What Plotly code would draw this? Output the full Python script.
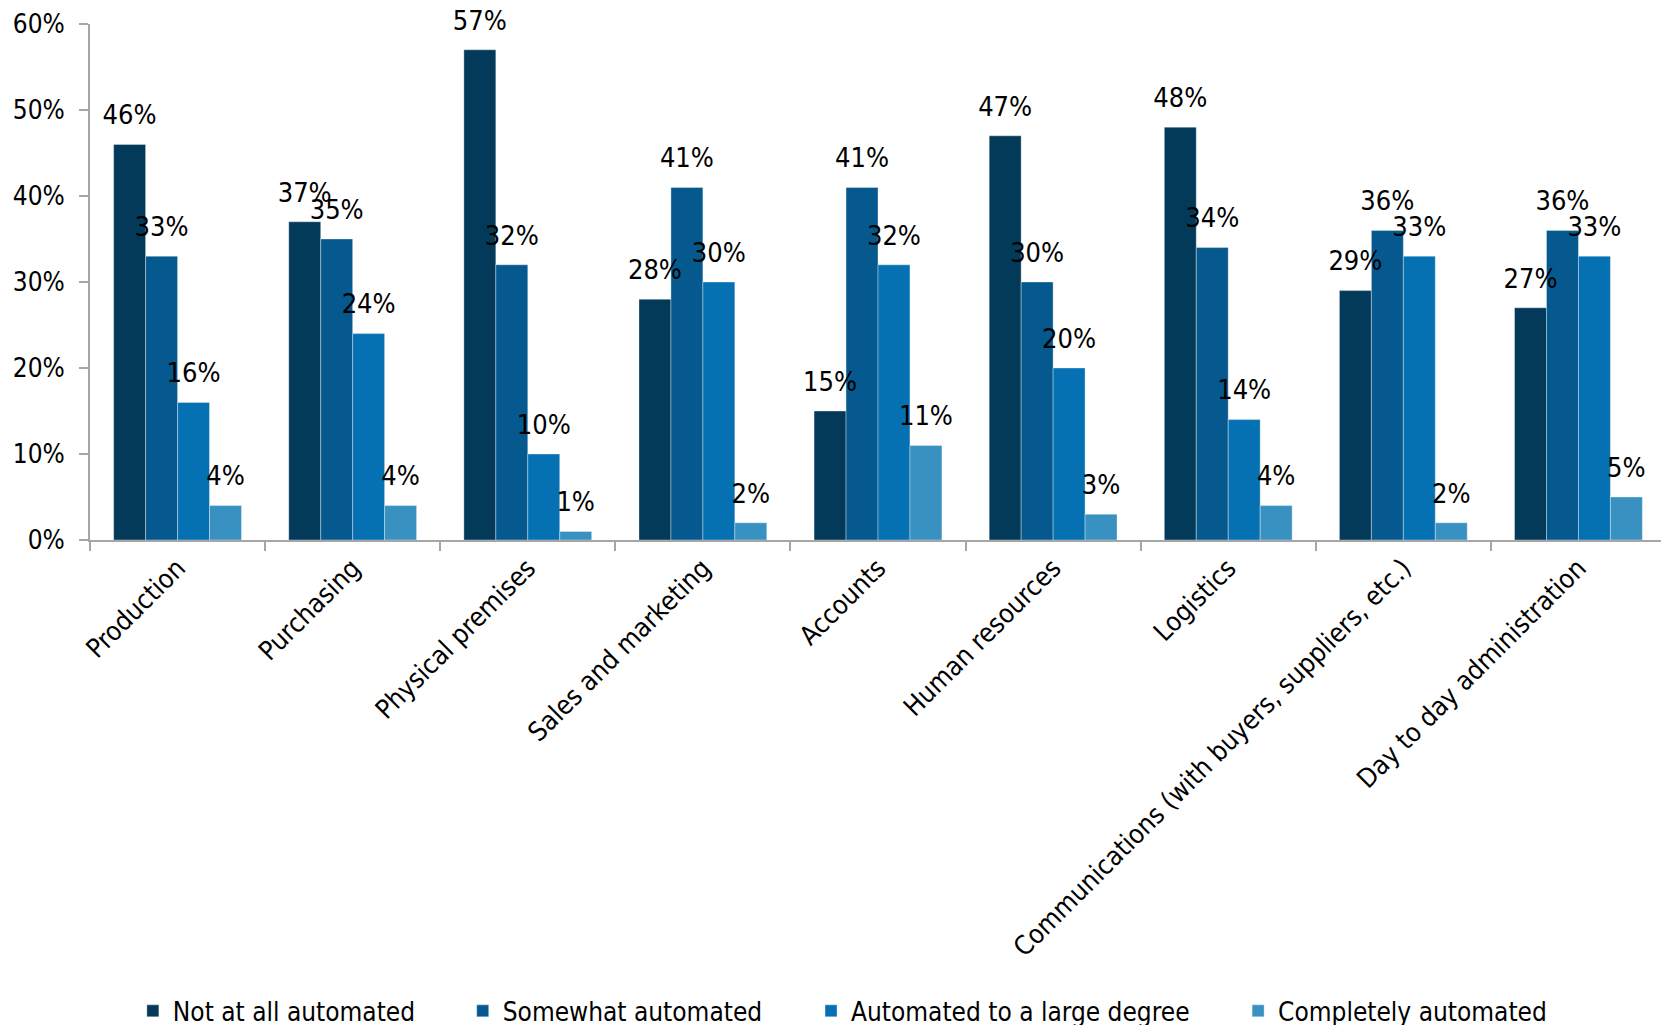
import plotly.graph_objects as go

categories = ["Production", "Purchasing", "Physical premises", "Sales and marketing",
              "Accounts", "Human resources", "Logistics",
              "Communications (with buyers, suppliers, etc.)", "Day to day administration"]
not_at_all = [46, 37, 57, 28, 15, 47, 48, 29, 27]
somewhat = [33, 35, 32, 41, 41, 30, 34, 36, 36]
large_degree = [16, 24, 10, 30, 32, 20, 14, 33, 33]
completely = [4, 4, 1, 2, 11, 3, 4, 2, 5]

series = [
    ("Not at all automated", not_at_all, "#033A59"),
    ("Somewhat automated", somewhat, "#05598E"),
    ("Automated to a large degree", large_degree, "#0671B2"),
    ("Completely automated", completely, "#3891C1"),
]

FONT = "DejaVu Sans Condensed, DejaVu Sans"
legend_ids = ["legend", "legend2", "legend3", "legend4"]
legend_x = [0.0272, 0.2365, 0.4575, 0.7285]

fig = go.Figure()
for (name, vals, color), lid in zip(series, legend_ids):
    fig.add_trace(go.Bar(
        name=name, x=categories, y=[v / 100 for v in vals],
        marker=dict(color=color, line=dict(color="rgba(255,255,255,0.35)", width=1)),
        legend=lid,
    ))
for name, vals, color in series:
    fig.add_trace(go.Scatter(
        x=categories, y=[v / 100 for v in vals], mode="markers+text",
        orientation="v",
        marker=dict(size=20, opacity=0, color=color),
        text=[f"{v}%" for v in vals], textposition="top center",
        textfont=dict(family=FONT, size=27, color="black"),
        cliponaxis=False, showlegend=False, hoverinfo="skip",
    ))

layout_legends = {}
for lid, lx in zip(legend_ids, legend_x):
    layout_legends[lid] = dict(
        orientation="h", x=lx, xanchor="left", y=0.0138, yanchor="middle",
        yref="container", font=dict(family=FONT, size=26), itemwidth=30,
        bgcolor="rgba(0,0,0,0)")

# page has an 8px body margin; figure sized/offset to compensate
fig.update_layout(
    barmode="group", bargap=0.27, bargroupgap=0,
    scattermode="group", scattergap=0.27,
    width=1661, height=1017,
    margin=dict(l=82, r=3, t=16, b=485),
    plot_bgcolor="white", paper_bgcolor="white",
    font=dict(family=FONT, size=26, color="black"),
    showlegend=True,
    **layout_legends,
)
fig.update_yaxes(range=[0, 0.6], dtick=0.1, tickformat=".0%", showgrid=False,
                 showline=True, linecolor="#A6A6A6", linewidth=2,
                 ticks="outside", ticklen=9, tickcolor="#A6A6A6", tickwidth=2,
                 ticklabelstandoff=9,
                 tickfont=dict(family=FONT, size=26), zeroline=False,
                 automargin=False)
fig.update_xaxes(showline=True, linecolor="#A6A6A6", linewidth=2,
                 ticks="outside", ticklen=9, tickcolor="#A6A6A6", tickwidth=2,
                 tickson="boundaries", tickangle=-45, automargin=False,
                 tickfont=dict(family=FONT, size=26.5))

fig.write_html("out.html")
